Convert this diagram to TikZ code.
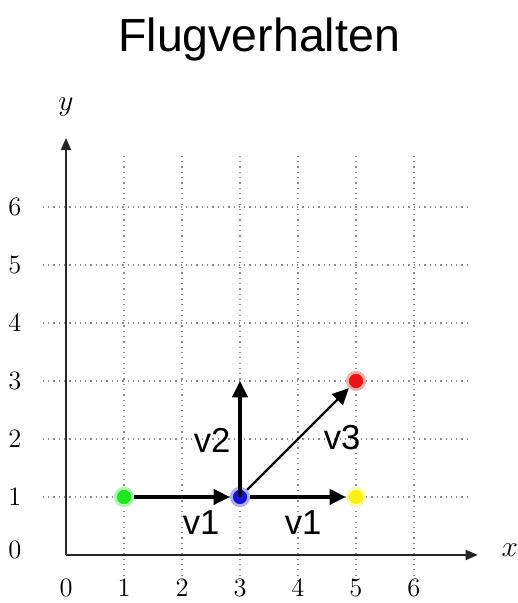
\documentclass[tikz,border=0pt]{standalone}
\usepackage{fontspec}
\usepackage{xcolor}
\usepackage{tikz}
\usetikzlibrary{arrows.meta, positioning}
\newfontfamily\arialfont{Liberation Sans}
\definecolor{gruenchen}{RGB}{30,230,30}
\definecolor{blauchen}{RGB}{20,20,210}
\definecolor{gelbchen}{RGB}{250,240,20}
\definecolor{rotchen}{RGB}{235,20,20}
\tikzset{>={Triangle[length=8pt,width=7.5pt]}}

\begin{document}
\begin{tikzpicture}[x=1cm, y=1cm,
    gitter/.style={dotted, gray!90, line width=0.6pt},
    achse/.style={-{Triangle[length=6pt,width=5pt]}, line width=0.9pt, black!85},
    punkt/.style={circle, inner sep=0pt, minimum size=0.3cm, line width=1.4pt},
    vektor/.style={->, line width=1.6pt},
    zahl/.style={font=\fontsize{13}{15}\selectfont},
    vname/.style={font=\arialfont\fontsize{17}{20}\selectfont}]
  \useasboundingbox (-1.138,-0.828) rectangle (7.793,9.569);

  % title
  \node[font=\arialfont\fontsize{22.8}{26}\selectfont] (titel) at (3.33,8.88) {Flugverhalten};

  % grid
  \foreach \i in {1,...,6} {
    \draw[gitter] (\i,-0.45) -- (\i,6.95);
    \draw[gitter] (-0.4,\i) -- (7.0,\i);
  }

  % axes
  \coordinate (O) at (0,0);
  \coordinate (xende) at (7.1,0);
  \coordinate (yende) at (0,7.19);
  \draw[achse] (O) -- (xende);
  \draw[achse] (O) -- (yende);
  \node[font=\Large] (xname) at (7.65,0.08) {$x$};
  \node[font=\Large] (yname) at (0,7.72) {$y$};

  % tick labels
  \foreach \i in {0,...,6} {
    \node[zahl] (xt\i) at (\i,-0.57) {\i};
  }
  \node[zahl] (yt0) at (-0.88,0.08) {0};
  \foreach \i in {1,...,6} {
    \node[zahl] (yt\i) at (-0.88,\i) {\i};
  }

  % points
  \node[punkt, fill=gruenchen, draw=gruenchen!35] (gruen) at (1,1) {};
  \node[punkt, fill=blauchen, draw=blauchen!35] (blau) at (3,1) {};
  \node[punkt, fill=gelbchen, draw=gelbchen!35] (gelb) at (5,1) {};
  \node[punkt, fill=rotchen, draw=rotchen!35] (rot) at (5,3) {};
  \coordinate (oben) at (3,3);

  % vectors
  \draw[vektor] (gruen) -- (blau);
  \draw[vektor] (blau) -- (gelb);
  \draw[vektor] (blau.center) -- (oben);
  \draw[vektor, line width=1.1pt] (blau) -- (rot);

  \node[vname] (va) at (2.33,0.55) {v1};
  \node[vname] (vb) at (4.09,0.55) {v1};
  \node[vname] (vc) at (2.52,1.98) {v2};
  \node[vname] (vd) at (4.76,2.03) {v3};
\end{tikzpicture}
\end{document}
